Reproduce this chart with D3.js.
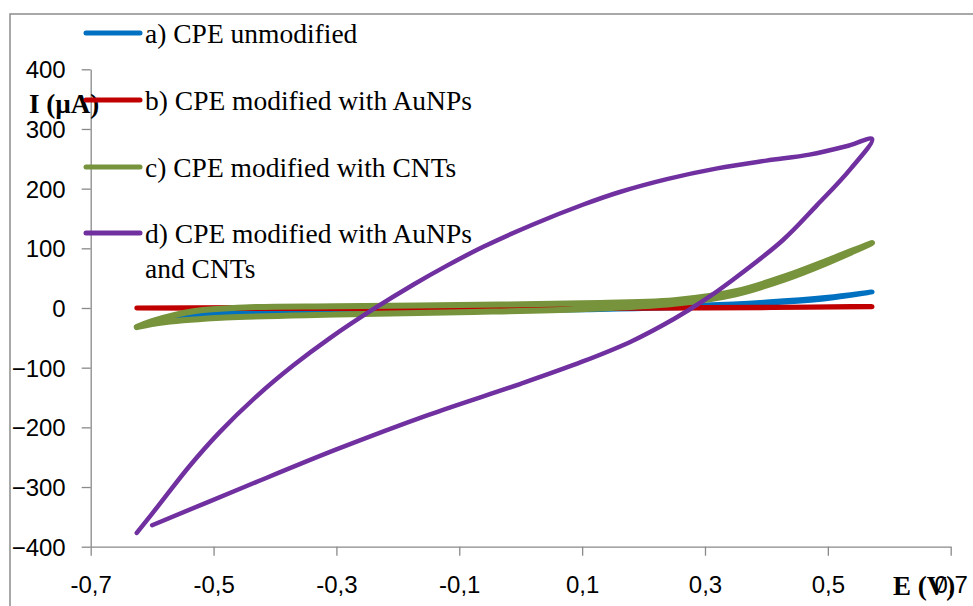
<!DOCTYPE html>
<html>
<head>
<meta charset="utf-8">
<script src="https://cdn.jsdelivr.net/npm/d3@7"></script>
<style>
body { margin: 0; background: #fff; }
</style>
</head>
<body>
<div id="chart"></div>
<script>
// series: E (V) and I (uA), forward scan then reverse scan
var seriesNames = ["a) CPE unmodified", "b) CPE modified with AuNPs", "c) CPE modified with CNTs", "d) CPE modified with AuNPs|and CNTs"];

var aE = [-0.625, -0.58, -0.5, -0.3, -0.1, 0.1, 0.3, 0.4, 0.5, 0.572, 0.5, 0.4, 0.3, 0.1, -0.1, -0.3, -0.5, -0.58, -0.625];
var aI = [-32, -20, -12, -8, -6, -3, 2, 8, 16, 27, 18, 10, 5, 2, -1, -3, -8, -18, -32];

var bE = [-0.625, -0.3, 0, 0.3, 0.572, 0.3, 0, -0.3, -0.625];
var bI = [0, 1, 1, 1, 2, 0, -1, -1, 0];

var cE = [-0.625, -0.58, -0.48, -0.3, -0.1, 0.1, 0.25, 0.35, 0.43, 0.5, 0.572, 0.5, 0.43, 0.35, 0.25, 0.1, -0.1, -0.3, -0.45, -0.53, -0.6, -0.625];
var cI = [-32, -24, -16, -11, -7, -2, 7, 23, 48, 76, 109, 80, 53, 28, 13, 8, 5, 3, 1, -5, -22, -32];

var dE = [-0.600, -0.45, -0.3, -0.15, 0, 0.1, 0.18, 0.25, 0.3, 0.345, 0.427, 0.482, 0.536, 0.572,
          0.53, 0.47, 0.40, 0.32, 0.238, 0.16, 0.101, 0.02, -0.06, -0.12, -0.175, -0.24, -0.31, -0.37, -0.43, -0.49, -0.54, -0.585, -0.625];
var dI = [-364, -300, -237, -179, -127, -90, -56, -18, 14, 47, 114, 172, 232, 283,
          271, 257, 247, 234, 216, 194, 173, 140, 103, 71, 39, -2, -50, -96, -148, -208, -266, -325, -377];

var xTicks = [-0.7, -0.5, -0.3, -0.1, 0.1, 0.3, 0.5, 0.7];
var xTickLabels = ["-0,7", "-0,5", "-0,3", "-0,1", "0,1", "0,3", "0,5", "0,7"];
var yTicks = [-400, -300, -200, -100, 0, 100, 200, 300, 400];

var colors = ["#0070C0", "#C00000", "#77933C", "#7030A0"];
var widths = [5, 5, 6, 4.5];

var W = 973, H = 606;
var svg = d3.select("#chart").append("svg")
    .attr("width", W)
    .attr("height", H);

// chart area border
svg.append("rect")
    .attr("x", 10).attr("y", 14)
    .attr("width", 1000).attr("height", 700)
    .attr("fill", "none")
    .attr("stroke", "#8c8c8c")
    .attr("stroke-width", 1.5);

var x = d3.scaleLinear().domain([-0.7, 0.7]).range([90.7, 950.7]);
var y = d3.scaleLinear().domain([-400, 400]).range([546.7, 69.3]);

// axes
var xAxis = svg.append("g")
    .attr("transform", "translate(0," + y(-400) + ")")
    .call(d3.axisBottom(x).tickValues(xTicks).tickSize(9).tickSizeOuter(0)
        .tickFormat(function(d, i) { return xTickLabels[i]; }));
var yAxis = svg.append("g")
    .attr("transform", "translate(" + x(-0.7) + ",0)")
    .call(d3.axisLeft(y).tickValues(yTicks).tickSize(9).tickSizeOuter(0));

[xAxis, yAxis].forEach(function(g) {
  g.select(".domain").attr("stroke", "#898989").attr("stroke-width", 1.3);
  g.selectAll(".tick line").attr("stroke", "#898989").attr("stroke-width", 1.3);
  g.selectAll(".tick text")
    .attr("fill", "#000")
    .style("font-family", "'Liberation Sans', Arial, sans-serif")
    .style("font-size", "24px");
});
xAxis.selectAll(".tick text").attr("y", 0).attr("dy", "1.95em");
yAxis.selectAll(".tick text").attr("x", -25).attr("dy", "0.36em");

// curves
var allE = [aE, bE, cE, dE];
var allI = [aI, bI, cI, dI];
var line = d3.line()
    .x(function(d) { return x(d[0]); })
    .y(function(d) { return y(d[1]); })
    .curve(d3.curveCatmullRom.alpha(0.5));

allE.forEach(function(E, k) {
  var pts = E.map(function(e, i) { return [e, allI[k][i]]; });
  svg.append("path")
    .datum(pts)
    .attr("d", line)
    .attr("fill", "none")
    .attr("stroke", colors[k])
    .attr("stroke-width", widths[k])
    .attr("stroke-linecap", "round")
    .attr("stroke-linejoin", "round");
});

// axis titles
svg.append("text")
    .attr("x", 29).attr("y", 113)
    .style("font-family", "'Liberation Serif', 'Times New Roman', serif")
    .style("font-weight", "bold")
    .style("font-size", "27px")
    .text("I (µA)");
svg.append("text")
    .attr("x", 893).attr("y", 595)
    .style("font-family", "'Liberation Serif', 'Times New Roman', serif")
    .style("font-weight", "bold")
    .style("font-size", "27px")
    .text("E (V)");

// legend
var legendY = [33, 100, 167, 233];
var legend = svg.append("g");
seriesNames.forEach(function(name, k) {
  legend.append("line")
    .attr("x1", 86).attr("x2", 140)
    .attr("y1", legendY[k]).attr("y2", legendY[k])
    .attr("stroke", colors[k])
    .attr("stroke-width", 5)
    .attr("stroke-linecap", "round");
  var t = legend.append("text")
    .attr("x", 145).attr("y", legendY[k] + 10)
    .style("font-family", "'Liberation Serif', 'Times New Roman', serif")
    .style("font-size", "27.5px")
    .attr("fill", "#000");
  name.split("|").forEach(function(part, j) {
    t.append("tspan").attr("x", 145).attr("dy", j === 0 ? 0 : 35).text(part);
  });
});
</script>
</body>
</html>
